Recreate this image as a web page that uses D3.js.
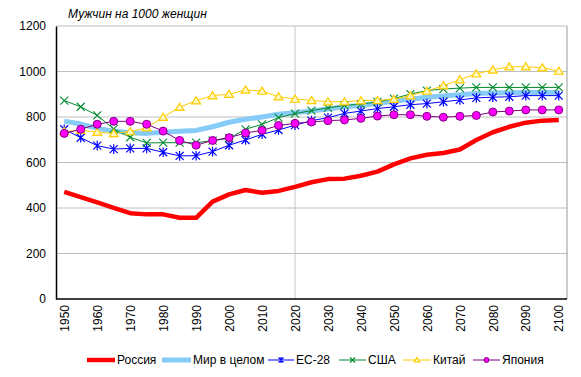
<!DOCTYPE html>
<html>
<head>
<meta charset="utf-8">
<script src="https://cdn.jsdelivr.net/npm/d3@7"></script>
<style>
  body { margin: 0; background: #fff; }
  text { font-family: "Liberation Sans", Arial, sans-serif; }
</style>
</head>
<body>
<div id="chart"></div>
<script>
// годы 1950..2100 с шагом 5
const years = [1950,1955,1960,1965,1970,1975,1980,1985,1990,1995,2000,2005,2010,2015,2020,
  2025,2030,2035,2040,2045,2050,2055,2060,2065,2070,2075,2080,2085,2090,2095,2100];
const yTicks = [0, 200, 400, 600, 800, 1000, 1200];

const russia = [471,448,425,401,377,372,372,357,357,428,460,479,467,475,493,
  513,527,529,542,560,592,618,634,642,657,699,733,757,775,784,787];
const world = [782,769,750,738,731,728,733,737,741,757,777,790,800,812,819,
  826,835,845,851,860,869,878,887,892,898,903,905,907,908,908,908];
const eu28 = [746,709,674,659,662,662,645,629,630,648,676,699,724,743,764,
  784,797,816,826,837,845,854,859,867,875,884,887,889,894,894,894];
const usa = [872,845,807,748,711,686,687,687,687,696,706,746,768,797,815,
  828,840,851,857,866,881,901,916,923,927,930,930,930,930,930,930];
const china = [736,742,733,728,736,753,799,843,872,894,900,919,914,889,879,
  873,867,867,872,873,878,894,914,938,964,990,1007,1021,1021,1017,1002];
const japan = [728,746,768,781,781,768,738,697,676,697,709,730,741,763,772,
  778,784,787,794,804,810,810,803,799,803,807,822,826,831,831,831];

const series = [
  { name: "Россия", values: russia, color: "#ff0000", width: 4.5, marker: null },
  { name: "Мир в целом", values: world, color: "#87cbf8", width: 5, marker: null },
  { name: "ЕС-28", values: eu28, color: "#0000ff", width: 1, marker: "star" },
  { name: "США", values: usa, color: "#008a2e", width: 1, marker: "cross" },
  { name: "Китай", values: china, color: "#ffcc00", width: 1, marker: "triangle" },
  { name: "Япония", values: japan, color: "#800080", width: 1, marker: "circle" }
];

const width = 581, height = 377;
const margin = { top: 26, right: 14, bottom: 78, left: 56 };
const innerW = width - margin.left - margin.right;
const innerH = height - margin.top - margin.bottom;

const svg = d3.select("#chart").append("svg")
  .attr("width", width).attr("height", height);

const g = svg.append("g").attr("transform", `translate(${margin.left},${margin.top})`);

const x = d3.scalePoint().domain(years).range([0, innerW]).padding(0.5);
const y = d3.scaleLinear().domain([0, 1200]).range([innerH, 0]);

// горизонтальная сетка
g.selectAll(".grid").data(yTicks.slice(1)).enter().append("line")
  .attr("x1", 0).attr("x2", innerW)
  .attr("y1", d => y(d)).attr("y2", d => y(d))
  .attr("stroke", "#bfbfbf").attr("stroke-width", 1);

// вертикальная линия 2020
g.append("line")
  .attr("x1", x(2020)).attr("x2", x(2020))
  .attr("y1", 0).attr("y2", innerH)
  .attr("stroke", "#c8c8c8").attr("stroke-width", 1);

// правая граница
g.append("line").attr("x1", innerW).attr("x2", innerW).attr("y1", 0).attr("y2", innerH)
  .attr("stroke", "#999").attr("stroke-width", 1);

// оси
const yAxis = g.append("g").call(d3.axisLeft(y).tickValues(yTicks).tickFormat(d3.format("d"))
  .tickSize(0).tickPadding(10));
yAxis.select(".domain").attr("stroke", "#000").attr("stroke-width", 1.5);
yAxis.selectAll("text").style("font-size", "12px").attr("fill", "#000");

const xAxis = g.append("g").attr("transform", `translate(0,${innerH})`)
  .call(d3.axisBottom(x).tickValues(years.filter(d => d % 10 === 0)).tickSize(0));
xAxis.select(".domain").attr("d", `M0,0H${innerW}`).attr("stroke", "#000").attr("stroke-width", 1.5);
xAxis.selectAll("text")
  .style("font-size", "12px").attr("fill", "#000")
  .attr("transform", "rotate(-90)")
  .attr("text-anchor", "end")
  .attr("x", -6).attr("y", 0).attr("dy", "0.35em");

// линии
const line = d3.line().x((d, i) => x(years[i])).y(d => y(d));

series.forEach(s => {
  g.append("path").datum(s.values)
    .attr("fill", "none")
    .attr("stroke", s.color)
    .attr("stroke-width", s.width)
    .attr("stroke-linejoin", "round")
    .attr("d", line);
});

function drawMarker(sel, type, color, size) {
  const r = size;
  if (type === "star") {
    sel.append("path")
      .attr("d", `M${-r},${-r}L${r},${r}M${-r},${r}L${r},${-r}M0,${-r * 1.2}L0,${r * 1.2}`)
      .attr("stroke", color).attr("stroke-width", 1.2).attr("fill", "none");
  } else if (type === "cross") {
    sel.append("path")
      .attr("d", `M${-r},${-r}L${r},${r}M${-r},${r}L${r},${-r}`)
      .attr("stroke", color).attr("stroke-width", 1.1).attr("fill", "none");
  } else if (type === "triangle") {
    sel.append("path")
      .attr("d", `M0,${-r}L${r * 1.1},${r * 0.8}L${-r * 1.1},${r * 0.8}Z`)
      .attr("stroke", color).attr("stroke-width", 1.2).attr("fill", "#fff7c0");
  } else if (type === "circle") {
    sel.append("circle").attr("r", r)
      .attr("stroke", color).attr("stroke-width", 1).attr("fill", "#ff00ff");
  }
}

series.filter(s => s.marker).forEach(s => {
  s.values.forEach((v, i) => {
    const m = g.append("g").attr("transform", `translate(${x(years[i])},${y(v)})`);
    drawMarker(m, s.marker, s.color, 4);
  });
});

// заголовок
svg.append("text")
  .attr("x", 68).attr("y", 18)
  .style("font-size", "12px").style("font-style", "italic")
  .text("Мужчин на 1000 женщин");

// легенда
const legendPos = [
  { x1: 87, x2: 115 }, { x1: 162, x2: 191 }, { x1: 268, x2: 294 },
  { x1: 339, x2: 366 }, { x1: 403, x2: 431 }, { x1: 473, x2: 500 }
];
series.forEach((s, i) => {
  const p = legendPos[i];
  const lg = svg.append("g").attr("transform", `translate(0,360)`);
  lg.append("line").attr("x1", p.x1).attr("x2", p.x2).attr("y1", 0).attr("y2", 0)
    .attr("stroke", s.color).attr("stroke-width", s.width);
  if (s.marker) {
    const m = lg.append("g").attr("transform", `translate(${(p.x1 + p.x2) / 2},0)`);
    drawMarker(m, s.marker, s.color, 2.5);
  }
  lg.append("text").attr("x", p.x2 + 2).attr("y", 0).attr("dy", "0.35em")
    .style("font-size", "12px").text(s.name);
});
</script>
</body>
</html>
